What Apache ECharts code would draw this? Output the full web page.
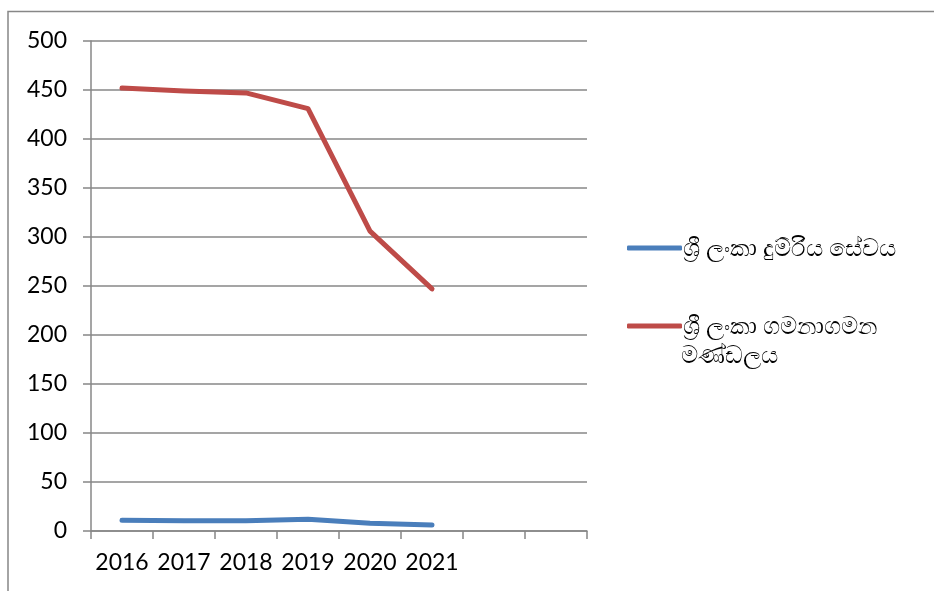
<!DOCTYPE html>
<html>
<head>
<meta charset="utf-8">
<script src="https://cdn.jsdelivr.net/npm/echarts@6/dist/echarts.min.js"></script>
<style>
  html, body { margin: 0; padding: 0; background: #fff; }
  #chart { width: 934px; height: 591px; }
</style>
</head>
<body>
<div id="chart"></div>
<script>
// categories (last two slots are empty in the original)
const years = ['2016', '2017', '2018', '2019', '2020', '2021', '', '']
const railway = [11, 10.5, 10.5, 12, 8, 6]
const transport = [452, 449, 447, 431, 306, 247]
const yTicks = { min: 0, max: 500, interval: 50 }

const nameRail = 'ශ්‍රී ලංකා දුම්රිය සේවය'
const nameCtb = 'ශ්‍රී ලංකා ගමනාගමන මණ්ඩලය'

const chart = echarts.init(document.getElementById('chart'))
const grey = '#878787'
const font = 'Lato, "Noto Sans", sans-serif'

// common legend look
const legendBase = {
  orient: 'vertical',
  left: 622,
  itemWidth: 55,
  itemHeight: 5,
  icon: 'roundRect',
  textStyle: { fontFamily: font, fontSize: 24, color: '#000', padding: [0, 0, 0, -4], lineHeight: 30 }
}

chart.setOption({
  animation: false,
  backgroundColor: '#fff',
  grid: { left: 91, right: 347, top: 41, bottom: 60 },
  graphic: [
    {
      // chart frame (only top and left edges show)
      type: 'rect',
      shape: { x: 8, y: 11.5, width: 1000, height: 700 },
      style: { fill: 'none', stroke: grey, lineWidth: 1.5 },
      silent: true
    },
    {
      // wrapped second line of the second legend entry
      type: 'text',
      left: 681,
      top: 343,
      style: { text: 'මණ්ඩලය', font: '24px ' + font, fill: '#000' },
      silent: true
    }
  ],
  legend: [
    Object.assign({}, legendBase, { top: 228, data: [nameRail] }),
    Object.assign({}, legendBase, {
      top: 306,
      data: [nameCtb],
      formatter: (name) => name.replace(' මණ්ඩලය', '')
    })
  ],
  xAxis: {
    type: 'category',
    data: years,
    boundaryGap: true,
    axisLine: { lineStyle: { color: grey, width: 1.5 } },
    axisTick: { show: true, length: 8, lineStyle: { color: grey, width: 1.5 } },
    axisLabel: { color: '#000', fontFamily: font, fontSize: 23, margin: 20, interval: 0 }
  },
  yAxis: {
    type: 'value',
    min: yTicks.min,
    max: yTicks.max,
    interval: yTicks.interval,
    axisLine: { show: true, lineStyle: { color: grey, width: 1.5 } },
    axisTick: { show: true, length: 8, lineStyle: { color: grey, width: 1.5 } },
    axisLabel: { color: '#000', fontFamily: font, fontSize: 23, margin: 24 },
    splitLine: { lineStyle: { color: grey, width: 1.5 } }
  },
  series: [
    {
      name: nameRail,
      type: 'line',
      data: railway,
      showSymbol: false,
      lineStyle: { color: '#4A7EBB', width: 5, cap: 'round', join: 'round' },
      itemStyle: { color: '#4A7EBB' }
    },
    {
      name: nameCtb,
      type: 'line',
      data: transport,
      showSymbol: false,
      lineStyle: { color: '#BE4B48', width: 5, cap: 'round', join: 'round' },
      itemStyle: { color: '#BE4B48' }
    }
  ]
})
</script>
</body>
</html>
